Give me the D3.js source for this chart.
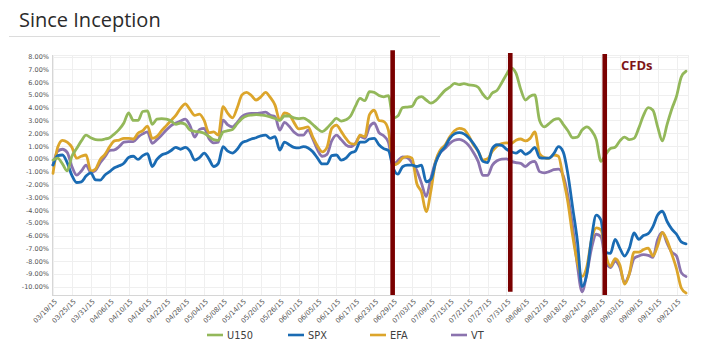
<!DOCTYPE html>
<html>
<head>
<meta charset="utf-8">
<script src="https://cdn.jsdelivr.net/npm/d3@7"></script>
<style>
  html, body { margin: 0; padding: 0; background: #fff; }
  svg { display: block; }
</style>
</head>
<body>
<svg id="chart" width="705" height="358"></svg>
<script>
// ---------------- DATA ----------------
const title = "Since Inception";
const seriesNames = ["U150", "SPX", "EFA", "VT"];
const seriesColors = ["#93b85a", "#1a6bb3", "#dca52b", "#8b73ae"];

// x tick labels: one every 4 trading days, starting at the first point
const tickLabels = ["03/19/15","03/25/15","03/31/15","04/06/15","04/10/15","04/16/15","04/22/15","04/28/15",
  "05/04/15","05/08/15","05/14/15","05/20/15","05/26/15","06/01/15","06/05/15","06/11/15","06/17/15",
  "06/23/15","06/29/15","07/03/15","07/09/15","07/15/15","07/21/15","07/27/15","07/31/15","08/06/15",
  "08/12/15","08/18/15","08/24/15","08/28/15","09/03/15","09/09/15","09/15/15","09/21/15"];
const tickStep = 4;
const yTicks = [8,7,6,5,4,3,2,1,0,-1,-2,-3,-4,-5,-6,-7,-8,-9,-10];
const yDomain = [-10.65, 8.12];

// cumulative return (%) per trading day
const u150 = [-0.1,0.05,-0.4,-0.95,0.2,0.8,1.4,1.85,1.65,1.5,
  1.48,1.55,1.65,1.95,2.3,2.8,3.6,3.0,3.0,3.7,
  3.75,2.7,3.1,3.15,3.1,2.95,2.7,2.8,2.7,2.25,
  2.15,2.1,2.0,1.75,1.5,1.45,2.1,2.2,2.3,2.75,
  3.15,3.35,3.42,3.45,3.42,3.38,3.28,3.15,3.0,3.35,
  3.35,3.2,3.15,3.18,3.0,2.68,2.35,2.12,2.4,2.8,
  3.16,2.95,3.05,3.35,4.1,4.72,4.55,5.25,5.2,4.95,
  4.85,4.95,3.2,3.35,4.0,4.05,4.1,4.7,4.86,4.6,
  4.35,4.55,4.95,5.35,5.6,5.9,5.8,5.88,5.78,5.75,
  5.6,5.05,4.7,5.15,5.35,5.95,6.6,7.1,6.7,5.45,
  4.6,4.9,5.0,3.0,2.5,2.75,3.05,3.15,2.7,2.2,
  1.65,1.7,2.25,2.5,2.2,1.5,-0.2,0.35,0.8,0.9,
  1.4,1.7,1.5,1.6,2.4,3.4,4.0,3.8,2.5,1.4,
  2.7,3.9,4.9,6.4,6.85];
const spx = [-0.48,0.25,0.3,-0.3,-1.3,-1.85,-1.8,-1.35,-1.1,-1.65,
  -1.66,-1.27,-1.0,-0.7,-0.55,-0.35,0.1,0.2,-0.05,0.25,
  0.4,-0.6,-0.05,0.3,0.43,0.65,0.9,0.75,0.9,0.6,
  -0.1,0.1,0.45,0.0,-0.6,-0.35,0.95,0.6,0.45,0.75,
  1.25,1.4,1.55,1.65,1.8,1.85,1.6,1.73,0.69,1.3,
  1.1,0.9,0.85,0.95,0.85,0.55,0.05,-0.4,-0.4,0.25,
  0.3,-0.1,0.05,0.45,0.6,1.3,1.3,1.55,1.6,1.1,
  0.8,0.65,-0.7,-1.2,-0.62,-0.5,-0.5,-0.6,-0.5,-1.8,
  -1.6,-0.3,0.5,0.95,1.6,1.95,2.05,1.95,1.65,1.2,
  0.6,-0.2,-0.3,0.8,1.1,1.05,0.75,0.55,0.45,0.65,
  0.35,0.55,0.9,0.1,0.05,0.05,0.4,0.95,0.55,-1.2,
  -3.8,-6.4,-10.0,-9.0,-6.2,-4.4,-4.8,-7.3,-7.4,-6.3,
  -7.0,-7.6,-7.0,-5.8,-6.3,-6.0,-5.85,-5.3,-4.4,-4.1,
  -4.9,-5.5,-5.9,-6.5,-6.65];
const efa = [-1.13,0.9,1.45,1.3,0.9,0.05,0.2,0.3,-0.95,-0.8,
  -0.05,0.35,0.95,1.4,1.47,1.6,1.6,1.55,2.0,2.2,
  2.55,1.6,1.75,2.2,2.6,3.0,3.4,3.95,4.3,3.85,
  3.4,3.5,3.0,2.05,2.1,1.85,4.08,3.55,3.2,4.0,
  5.0,5.2,4.95,4.6,4.85,5.2,4.8,4.2,3.03,3.6,
  3.45,2.85,2.35,2.4,2.5,1.7,1.0,0.55,0.9,2.38,
  2.64,2.15,1.6,1.2,1.15,1.86,1.73,3.45,3.8,3.0,
  2.92,2.25,-0.48,-0.35,0.05,0.17,0.05,-1.92,-2.6,-4.13,
  -2.5,-0.2,0.7,1.08,1.73,2.2,2.38,2.3,1.8,1.1,
  0.6,-0.1,0.0,0.6,1.0,1.2,1.25,1.2,1.45,1.55,
  1.4,1.6,2.1,0.4,0.1,0.04,0.3,0.2,-1.5,-3.4,
  -6.0,-8.1,-9.2,-8.45,-6.35,-5.4,-5.55,-7.5,-8.4,-7.8,
  -8.3,-9.8,-9.0,-7.3,-7.3,-7.1,-6.98,-7.6,-6.8,-5.75,
  -6.4,-7.45,-8.6,-10.1,-10.5];
const vt = [-0.48,0.6,0.75,0.5,-0.6,-1.27,-0.95,-0.5,-1.05,-0.9,
  -0.3,0.17,0.65,0.7,0.95,1.3,1.35,1.35,1.7,1.95,
  2.1,1.21,1.5,1.86,2.25,2.6,2.8,2.95,3.1,2.6,
  1.7,2.3,2.38,1.6,1.25,1.3,3.03,2.65,2.5,2.85,
  3.3,3.5,3.55,3.55,3.6,3.65,3.4,3.3,2.25,2.85,
  2.55,2.1,1.86,1.86,2.25,1.55,0.7,0.2,0.35,1.4,
  1.86,1.5,1.1,0.95,1.2,1.75,1.6,2.5,2.8,2.05,
  1.8,1.3,-0.48,-0.15,0.15,0.08,-0.3,-0.9,-1.9,-2.95,
  -1.5,-0.2,0.5,0.82,1.21,1.45,1.52,1.38,1.05,0.5,
  -0.2,-1.3,-1.3,-0.5,-0.15,-0.02,0.0,-0.2,-0.3,-0.35,
  -0.6,-0.3,-0.2,-1.0,-1.1,-1.0,-0.85,-0.8,-1.3,-2.9,
  -5.3,-8.3,-10.4,-9.0,-7.0,-5.9,-6.1,-8.0,-8.5,-8.0,
  -8.5,-9.7,-9.0,-7.8,-7.6,-7.5,-7.55,-7.7,-6.3,-5.75,
  -6.6,-7.3,-7.6,-8.9,-9.2];

// vertical event markers (position in trading-day index, extent in %)
const markerIndex = [71.9, 96.8, 116.8];
const markerTop = [8.5, 8.27, 8.2];
const markerBottom = [-10.65, -10.4, -10.65];
const annotation = "CFDs";

// ---------------- CHART ----------------
const allSeries = [u150, spx, efa, vt];
allSeries.forEach((s, k) => { if (s.length !== 135) throw new Error(seriesNames[k] + " length " + s.length); });
const n = u150.length;

const svg = d3.select("#chart");
const plot = { left: 52, right: 688, top: 55, bottom: 295 };

const x = d3.scaleLinear().domain([0, n - 1]).range([53, 686]);
const y = d3.scaleLinear().domain(yDomain).range([plot.bottom, plot.top]);

// Title
svg.append("text").attr("x", 19).attr("y", 27)
  .attr("font-family", "'Open Sans', sans-serif").attr("font-size", 20)
  .attr("fill", "#2b2b2b").text(title);
svg.append("line").attr("x1", 9).attr("x2", 440).attr("y1", 36.5).attr("y2", 36.5)
  .attr("stroke", "#dcdcdc").attr("stroke-width", 1);

// gridlines
const grid = svg.append("g");
grid.selectAll(".hg").data(yTicks).join("line")
  .attr("x1", plot.left).attr("x2", plot.right)
  .attr("y1", d => Math.round(y(d)) + 0.5).attr("y2", d => Math.round(y(d)) + 0.5)
  .attr("stroke", "#efefef");
grid.append("line").attr("x1", plot.left).attr("x2", plot.right)
  .attr("y1", plot.top + 0.5).attr("y2", plot.top + 0.5).attr("stroke", "#efefef");
const tickIdx = tickLabels.map((t, i) => i * tickStep);
grid.selectAll(".vg").data(tickIdx).join("line")
  .attr("x1", d => Math.round(x(d)) + 0.5).attr("x2", d => Math.round(x(d)) + 0.5)
  .attr("y1", plot.top).attr("y2", plot.bottom)
  .attr("stroke", "#efefef");
grid.append("line").attr("x1", plot.right + 0.5).attr("x2", plot.right + 0.5)
  .attr("y1", plot.top).attr("y2", plot.bottom).attr("stroke", "#efefef");

// axes lines
svg.append("line").attr("x1", plot.left + 0.5).attr("x2", plot.left + 0.5)
  .attr("y1", plot.top).attr("y2", plot.bottom).attr("stroke", "#d6d6d6");
svg.append("line").attr("x1", plot.left).attr("x2", plot.right)
  .attr("y1", plot.bottom + 0.5).attr("y2", plot.bottom + 0.5).attr("stroke", "#d6d6d6");

// y labels
const fmt = d => d.toFixed(2) + "%";
const yAxis = d3.axisLeft(y).tickValues(yTicks).tickFormat(fmt).tickSize(0).tickPadding(3);
const gy = svg.append("g").attr("transform", `translate(${plot.left},0)`).call(yAxis);
gy.select(".domain").remove();
gy.selectAll("text").attr("font-family", "'DejaVu Sans', sans-serif")
  .attr("font-size", 6.5).attr("fill", "#555");

// x labels
const xAxis = d3.axisBottom(x).tickValues(tickIdx).tickFormat((d, i) => tickLabels[i]).tickSize(0);
const gx = svg.append("g").attr("transform", `translate(0,${plot.bottom})`).call(xAxis);
gx.select(".domain").remove();
gx.selectAll("text")
  .attr("font-family", "'DejaVu Sans', sans-serif").attr("font-size", 6.8).attr("fill", "#555")
  .attr("text-anchor", "end").attr("dy", 0).attr("y", 0)
  .attr("transform", "translate(4,7) rotate(-45)");

// series lines (VT drawn first, U150 on top)
const line = d3.line().x((d, i) => x(i)).y(d => y(d)).curve(d3.curveMonotoneX);
const order = [3, 2, 1, 0];
const lg = svg.append("g");
order.forEach(k => {
  lg.append("path").datum(allSeries[k]).attr("d", line)
    .attr("fill", "none").attr("stroke", seriesColors[k]).attr("stroke-width", 2.8)
    .attr("stroke-linejoin", "round").attr("stroke-linecap", "round");
});

// event markers
svg.selectAll(".marker").data(markerIndex).join("line")
  .attr("x1", d => x(d)).attr("x2", d => x(d))
  .attr("y1", (d, i) => y(markerTop[i])).attr("y2", (d, i) => y(markerBottom[i]))
  .attr("stroke", "#7a0000").attr("stroke-width", 4.6);

svg.append("text").attr("x", 621).attr("y", 70)
  .attr("font-family", "'Open Sans', sans-serif").attr("font-weight", "bold").attr("font-size", 13)
  .attr("fill", "#7e1518").text(annotation);

// legend
const legendX = [207, 288, 370, 451];
const lgd = svg.append("g");
seriesNames.forEach((nm, k) => {
  lgd.append("line").attr("x1", legendX[k]).attr("x2", legendX[k] + 16)
    .attr("y1", 335).attr("y2", 335).attr("stroke", seriesColors[k]).attr("stroke-width", 2.6);
  lgd.append("text").attr("x", legendX[k] + 20).attr("y", 338.5)
    .attr("font-family", "'DejaVu Sans', sans-serif").attr("font-size", 9.8)
    .attr("fill", "#404040").text(nm);
});
</script>
</body>
</html>
